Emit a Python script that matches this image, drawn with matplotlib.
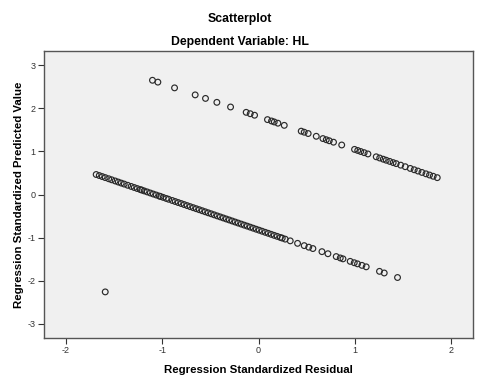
import matplotlib
matplotlib.use("Agg")
import matplotlib.pyplot as plt

plt.rcParams['font.family'] = ['Liberation Sans', 'DejaVu Sans']

# Upper band of points (residual, predicted)
resid_hi = [-1.100, -1.044, -0.871, -0.657, -0.550, -0.432, -0.290, -0.128, -0.086, -0.041,
            0.093, 0.135, 0.163, 0.201, 0.267, 0.443, 0.474, 0.515, 0.599, 0.668,
            0.703, 0.734, 0.778, 0.863, 0.996, 1.029, 1.060, 1.096, 1.135, 1.221,
            1.257, 1.294, 1.325, 1.361, 1.397, 1.428, 1.475, 1.522, 1.574, 1.615,
            1.654, 1.695, 1.737, 1.774, 1.812, 1.854]
pred_hi = [2.652, 2.609, 2.476, 2.313, 2.231, 2.140, 2.032, 1.908, 1.876, 1.841,
           1.739, 1.707, 1.685, 1.656, 1.606, 1.471, 1.447, 1.416, 1.352, 1.299,
           1.272, 1.248, 1.215, 1.150, 1.048, 1.023, 0.999, 0.972, 0.942, 0.876,
           0.848, 0.820, 0.796, 0.769, 0.741, 0.718, 0.682, 0.646, 0.606, 0.575,
           0.545, 0.513, 0.481, 0.453, 0.424, 0.392]

# Lower band of points
resid_lo = [-1.684, -1.652, -1.621, -1.590, -1.554, -1.523, -1.487, -1.455, -1.424, -1.393,
            -1.357, -1.321, -1.289, -1.258, -1.227, -1.212, -1.186, -1.155, -1.123, -1.092,
            -1.061, -1.030, -1.015, -0.989, -0.957, -0.932, -0.895, -0.864, -0.833, -0.802,
            -0.771, -0.740, -0.709, -0.677, -0.646, -0.615, -0.584, -0.553, -0.522, -0.491,
            -0.460, -0.428, -0.397, -0.366, -0.335, -0.304, -0.273, -0.242, -0.211, -0.179,
            -0.148, -0.117, -0.086, -0.055, -0.024, 0.007, 0.038, 0.070, 0.101, 0.132,
            0.163, 0.194, 0.226, 0.246, 0.277, 0.329, 0.405, 0.474, 0.521, 0.564,
            0.658, 0.720, 0.806, 0.848, 0.876, 0.951, 0.993, 1.027, 1.073, 1.117,
            1.255, 1.304, 1.442]
pred_lo = [0.465, 0.441, 0.417, 0.393, 0.366, 0.342, 0.315, 0.290, 0.266, 0.243,
           0.215, 0.188, 0.163, 0.139, 0.116, 0.104, 0.084, 0.061, 0.036, 0.012,
           -0.011, -0.035, -0.047, -0.066, -0.091, -0.110, -0.138, -0.162, -0.186, -0.209,
           -0.233, -0.257, -0.281, -0.305, -0.329, -0.352, -0.376, -0.400, -0.424, -0.447,
           -0.471, -0.496, -0.519, -0.543, -0.567, -0.590, -0.614, -0.638, -0.662, -0.686,
           -0.710, -0.733, -0.757, -0.781, -0.805, -0.828, -0.852, -0.877, -0.900, -0.924,
           -0.948, -0.971, -0.996, -1.011, -1.035, -1.075, -1.133, -1.186, -1.222, -1.254,
           -1.326, -1.374, -1.440, -1.472, -1.493, -1.551, -1.583, -1.609, -1.644, -1.678,
           -1.783, -1.821, -1.926]

# lone point
resid_out = [-1.59]
pred_out = [-2.26]

xticks = [-2, -1, 0, 1, 2]
yticks = [-3, -2, -1, 0, 1, 2, 3]

fig = plt.figure(figsize=(4.79, 3.84), dpi=100)
ax = fig.add_axes([0.0919, 0.1198, 0.8956, 0.7472])
ax.set_facecolor('#f0f0f0')

for xs, ys in [(resid_hi, pred_hi), (resid_lo, pred_lo), (resid_out, pred_out)]:
    ax.scatter(xs, ys, s=17, facecolors='none', edgecolors='#2a2a2a', linewidths=0.85, zorder=3)

ax.set_xlim(-2.225, 2.225)
ax.set_ylim(-3.33, 3.33)
ax.set_xticks(xticks)
ax.set_xticklabels([str(t) for t in xticks])
ax.set_yticks(yticks)
ax.set_yticklabels([str(t) for t in yticks])
ax.tick_params(direction='out', length=4, width=0.8, colors='#333333', labelsize=6.5, pad=2)

for sp in ax.spines.values():
    sp.set_color('#555555')
    sp.set_linewidth(1.0)

ax.set_xlabel('Regression Standardized Residual', fontsize=8.2, fontweight='bold')
ax.set_ylabel('Regression Standardized Predicted Value', fontsize=8.2, fontweight='bold')
ax.xaxis.set_label_coords(0.5, -0.095)
ax.yaxis.set_label_coords(-0.047, 0.5)

fig.text(0.5, 1 - 19 / 384, 'Scatterplot', ha='center', va='center', fontsize=8.8, fontweight='bold')
fig.text(0.5, 1 - 42 / 384, 'Dependent Variable: HL', ha='center', va='center', fontsize=8.8, fontweight='bold')

fig.savefig('out.png', dpi=100)
